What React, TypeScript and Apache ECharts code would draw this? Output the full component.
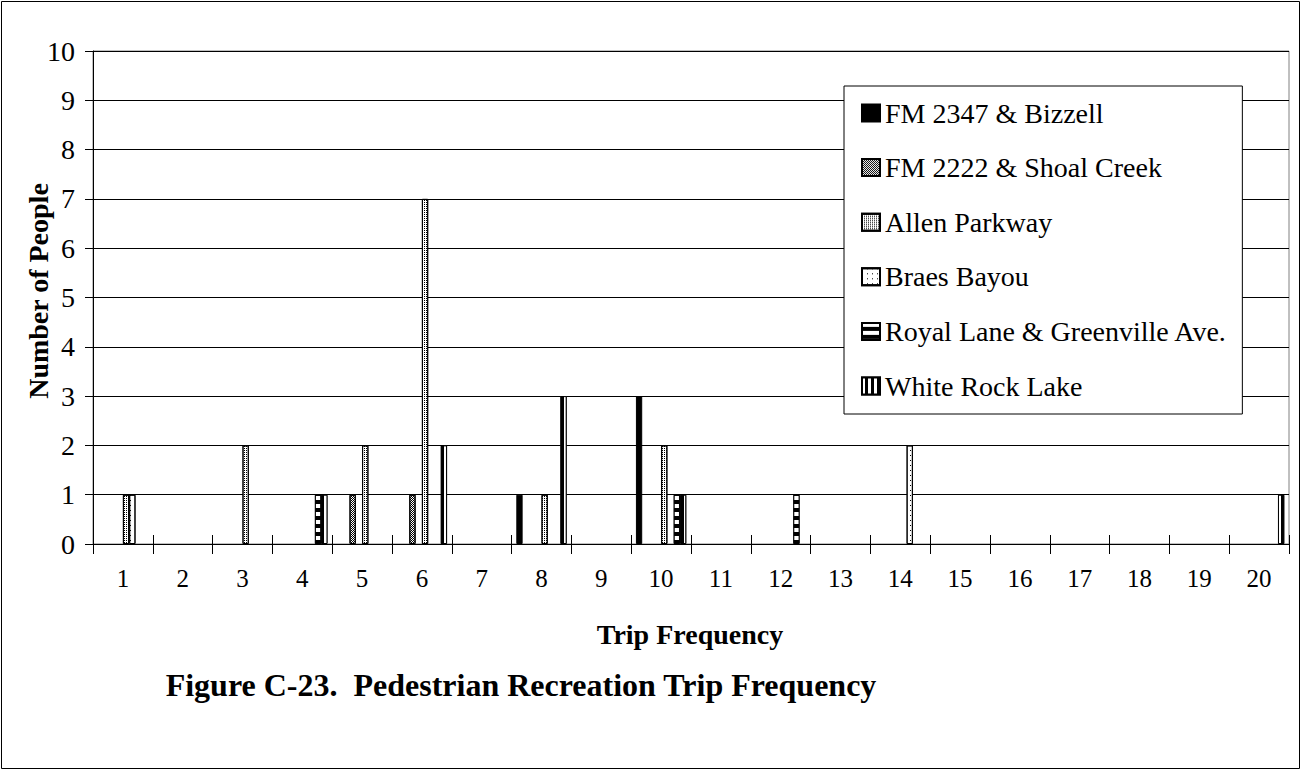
import React, { useEffect, useRef } from "react";
import * as echarts from "echarts";

const categories = ["1","2","3","4","5","6","7","8","9","10","11","12","13","14","15","16","17","18","19","20"];

const seriesNames = [
  "FM 2347 & Bizzell",
  "_gap1",
  "FM 2222 & Shoal Creek",
  "_gap2",
  "Allen Parkway",
  "Braes Bayou",
  "Royal Lane & Greenville Ave.",
  "White Rock Lake",
];
const legendNames = [
  "FM 2347 & Bizzell",
  "FM 2222 & Shoal Creek",
  "Allen Parkway",
  "Braes Bayou",
  "Royal Lane & Greenville Ave.",
  "White Rock Lake",
];

const fm2347 = [null,null,null,null,null,null,null,1,null,3,null,null,null,null,null,null,null,null,null,null];
const gap1 = [null,null,null,null,null,null,null,null,null,null,null,null,null,null,null,null,null,null,null,null];
const fm2222 = [null,null,null,null,1,1,null,null,null,null,null,null,null,null,null,null,null,null,null,null];
const gap2 = [null,null,null,null,null,null,null,null,null,null,null,null,null,null,null,null,null,null,null,null];
const allenParkway = [1,null,2,null,2,7,null,1,null,2,null,null,null,null,null,null,null,null,null,null];
const braesBayou = [1,null,null,null,null,null,null,null,null,null,null,null,null,2,null,null,null,null,null,null];
const royalLane = [null,null,null,1,null,null,null,null,null,1,null,1,null,null,null,null,null,null,null,null];
const whiteRock = [null,null,null,1,null,2,null,3,null,1,null,null,null,null,null,null,null,null,null,1];

const seriesData = [fm2347, gap1, fm2222, gap2, allenParkway, braesBayou, royalLane, whiteRock];

const FONT = "'Liberation Serif', 'Times New Roman', serif";

const styles: any[] = [
  { color: "#000" },
  { color: "#fff" },
  { color: "#fff", decal: { symbol: "rect", symbolSize: 1, color: "#000", dashArrayX: [[1, 1], [0, 1, 1, 0]], dashArrayY: [1, 0] } },
  { color: "#fff" },
  { color: "#fff", decal: { symbol: "rect", symbolSize: 1, color: "#000", dashArrayX: [1, 1], dashArrayY: [1, 1] } },
  { color: "#fff", decal: { symbol: "rect", symbolSize: 1, color: "#000", dashArrayX: [1, 4], dashArrayY: [1, 4] } },
  { color: "#000", decal: { symbol: "rect", symbolSize: 1, color: "#fff", dashArrayX: [1, 0], dashArrayY: [4, 4] } },
  { color: "#000", decal: { symbol: "rect", symbolSize: 1, color: "#fff", dashArrayX: [3, 3], dashArrayY: [1, 0] } },
];

export default function App() {
  const ref = useRef<HTMLDivElement>(null);
  useEffect(() => {
    document.body.style.margin = "0";
    const chart = echarts.init(ref.current!, null, { renderer: "svg" });
    const option: any = {
      animation: false,
      backgroundColor: "#fff",
      textStyle: { fontFamily: FONT },
      grid: {
        left: 93,
        right: 13,
        top: 51,
        bottom: 227,
        show: true,
        borderColor: "#808080",
        borderWidth: 1,
      },
      legend: {
        orient: "vertical",
        left: 844,
        top: 86,
        data: legendNames,
        backgroundColor: "#fff",
        borderColor: "#000",
        borderWidth: 1,
        padding: [13, 15, 14, 17],
        itemWidth: 18,
        itemHeight: 17,
        itemGap: 26.6,
        icon: "rect",
        textStyle: { fontFamily: FONT, fontSize: 28, lineHeight: 28, color: "#000" },
      },
      xAxis: [
        {
          type: "category",
          data: categories,
          position: "bottom",
          axisLine: { lineStyle: { color: "#000", width: 1 } },
          axisTick: { show: true, length: 10, lineStyle: { color: "#000" } },
          axisLabel: { fontFamily: FONT, fontSize: 25, color: "#000", margin: 22 },
          splitLine: { show: false },
        },
        {
          type: "category",
          data: categories,
          position: "bottom",
          axisLine: { show: false },
          axisTick: { show: true, inside: true, length: 9, lineStyle: { color: "#000" } },
          axisLabel: { show: false },
          splitLine: { show: false },
        },
      ],
      yAxis: {
        type: "value",
        min: 0,
        max: 10,
        interval: 1,
        axisLine: { show: true, lineStyle: { color: "#000", width: 1 } },
        axisTick: { show: true, length: 8, lineStyle: { color: "#000" } },
        axisLabel: { fontFamily: FONT, fontSize: 28, color: "#000", margin: 18 },
        splitLine: { show: true, lineStyle: { color: "#000", width: 1 } },
      },
      series: seriesNames.map((name, i) => ({
        name,
        type: "bar",
        xAxisIndex: 0,
        data: seriesData[i],
        barGap: "0%",
        barCategoryGap: "15.8%",
        itemStyle: { ...styles[i], borderColor: "#000", borderWidth: 1 },
        emphasis: { disabled: true },
      })),
      graphic: [
        {
          type: "rect",
          shape: { x: 1.5, y: 1.5, width: 1298, height: 767 },
          style: { fill: "none", stroke: "#000", lineWidth: 1 },
          silent: true,
        },
        {
          type: "text",
          x: 38,
          y: 291,
          rotation: Math.PI / 2,
          style: {
            text: "Number of People",
            font: `bold 28px ${FONT}`,
            fill: "#000",
            align: "center",
            verticalAlign: "middle",
          },
        },
        {
          type: "text",
          x: 690,
          y: 634,
          style: {
            text: "Trip Frequency",
            font: `bold 28px ${FONT}`,
            fill: "#000",
            align: "center",
            verticalAlign: "middle",
          },
        },
        {
          type: "text",
          x: 521,
          y: 685,
          style: {
            text: "Figure C-23.  Pedestrian Recreation Trip Frequency",
            font: `bold 32px ${FONT}`,
            fill: "#000",
            align: "center",
            verticalAlign: "middle",
          },
        },
      ],
    };
    chart.setOption(option);
    return () => chart.dispose();
  }, []);
  return (
    <div
      ref={ref}
      style={{ position: "absolute", left: 0, top: 0, width: 1302, height: 771 }}
    />
  );
}
